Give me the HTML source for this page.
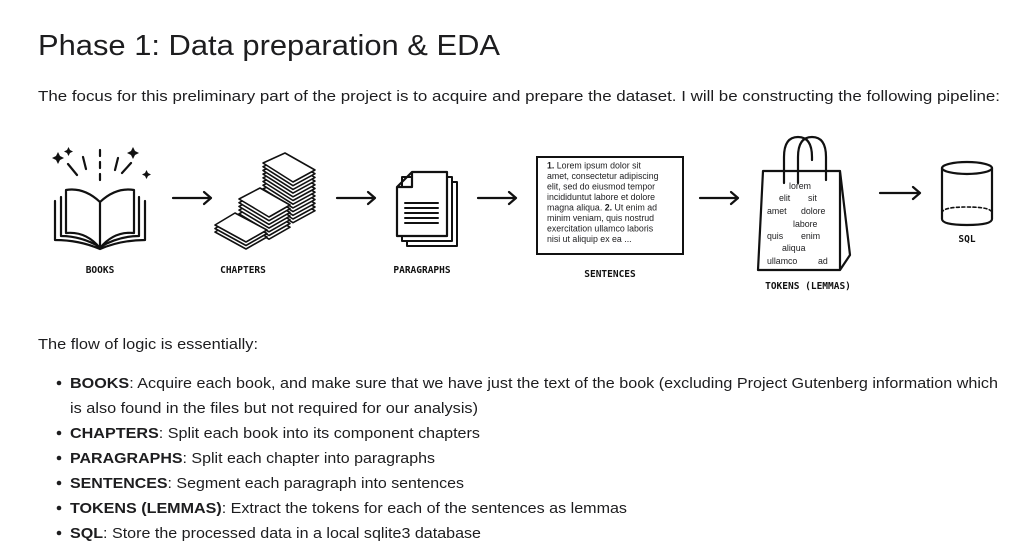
<!DOCTYPE html>
<html><head><meta charset="utf-8"><style>
html,body{margin:0;padding:0;background:#fff;}
svg{display:block}
text{font-family:"Liberation Sans",Arial,sans-serif;fill:#1d1d1f}
.m{font-family:"DejaVu Sans Mono","Liberation Mono",monospace;font-size:9.5px;fill:#111;font-weight:bold}
.s{fill:none;stroke:#111;stroke-width:2.2;stroke-linejoin:round;stroke-linecap:round}
.w{fill:#fff;stroke:#111;stroke-width:1.6;stroke-linejoin:round}
.b{font-weight:bold}
</style></head><body>
<svg width="1024" height="557" viewBox="0 0 1024 557" xmlns="http://www.w3.org/2000/svg" xmlns:xlink="http://www.w3.org/1999/xlink">
<defs>
<polygon id="dA" class="w" points="285,0 315,17 293,29 263,10"/>
<polygon id="dB" class="w" points="260,0 290,17 269,29 239,11"/>
<polygon id="dC" class="w" points="235,0 267,17 246,29 215,12"/>
</defs>
<text x="38" y="55" font-size="29" textLength="462" lengthAdjust="spacingAndGlyphs">Phase 1: Data preparation &amp; EDA</text>
<text x="38" y="101" font-size="15" textLength="962" lengthAdjust="spacingAndGlyphs">The focus for this preliminary part of the project is to acquire and prepare the dataset. I will be constructing the following pipeline:</text>

<!-- BOOK -->
<g>
<path fill="#111" d="M56 156 l2 -4 l2 4 l4 2 l-4 2 l-2 4 l-2 -4 l-4 -2z M67 150 l1.5 -3 l1.5 3 l3 1.5 l-3 1.5 l-1.5 3 l-1.5 -3 l-3 -1.5z M131 151 l2 -4 l2 4 l4 2 l-4 2 l-2 4 l-2 -4 l-4 -2z M145 173 l1.5 -3 l1.5 3 l3 1.5 l-3 1.5 l-1.5 3 l-1.5 -3 l-3 -1.5z"/>
<path class="s" d="M100 150 v6 M100 162 v6 M100 174 v6 M83 157 l3 12 M68 164 l9 11 M118 158 l-3 12 M131 163 l-9 10"/>
<path class="s" d="M55 201 v39 q24 0 45 9 q21 -9 45 -9 v-39 M61 197 v39 q20 0 39 11 q19 -11 39 -11 v-39"/>
<path class="w" style="stroke-width:2.2" d="M66 190 q18 -3 34 12 q16 -15 34 -12 v43 q-20 -2 -34 15 q-14 -17 -34 -15z"/>
<path class="s" d="M100 202 v44"/>
</g>
<path class="s" d="M173 198 h38 M204 192 l7 6 l-7 6"/>

<!-- CHAPTERS -->
<g>
<use xlink:href="#dA" y="193.7"/><use xlink:href="#dA" y="190"/><use xlink:href="#dA" y="186.3"/><use xlink:href="#dA" y="182.6"/><use xlink:href="#dA" y="178.9"/><use xlink:href="#dA" y="175.2"/><use xlink:href="#dA" y="171.5"/><use xlink:href="#dA" y="167.8"/><use xlink:href="#dA" y="164.1"/><use xlink:href="#dA" y="160.4"/><use xlink:href="#dA" y="156.7"/><use xlink:href="#dA" y="153"/>
<use xlink:href="#dB" y="210.2"/><use xlink:href="#dB" y="206.5"/><use xlink:href="#dB" y="202.8"/><use xlink:href="#dB" y="199.1"/><use xlink:href="#dB" y="195.4"/><use xlink:href="#dB" y="191.7"/><use xlink:href="#dB" y="188"/>
<use xlink:href="#dC" y="220"/><use xlink:href="#dC" y="216.5"/><use xlink:href="#dC" y="213"/>
</g>
<path class="s" d="M337 198 h38 M368 192 l7 6 l-7 6"/>

<!-- PARAGRAPHS -->
<g>
<rect class="w" x="407" y="182" width="50" height="64" style="stroke-width:2"/>
<rect class="w" x="402" y="177" width="50" height="64" style="stroke-width:2"/>
<path class="w" style="stroke-width:2.2" d="M412 172 h35 v64 h-50 v-49z M397 187 h15 v-15"/>
<path class="s" style="stroke-width:2" d="M405 203 h33 M405 208 h33 M405 213 h33 M405 218 h33 M405 223 h33"/>
</g>
<path class="s" d="M478 198 h38 M509 192 l7 6 l-7 6"/>

<!-- SENTENCES -->
<rect x="537" y="157" width="146" height="97" fill="#fff" stroke="#111" stroke-width="2"/>
<g font-size="8.8" style="font-family:'Liberation Sans',Arial,sans-serif">
<text x="547" y="168.5"><tspan class="b">1.</tspan> Lorem ipsum dolor sit</text>
<text x="547" y="179">amet, consectetur adipiscing</text>
<text x="547" y="189.5">elit, sed do eiusmod tempor</text>
<text x="547" y="200">incididuntut labore et dolore</text>
<text x="547" y="210.5">magna aliqua. <tspan class="b">2.</tspan> Ut enim ad</text>
<text x="547" y="221">minim veniam, quis nostrud</text>
<text x="547" y="231.5">exercitation ullamco laboris</text>
<text x="547" y="242">nisi ut aliquip ex ea ...</text>
</g>
<path class="s" d="M700 198 h38 M731 192 l7 6 l-7 6"/>

<!-- BAG -->
<g>
<path class="s" d="M784 183 v-26 q0 -20 14 -20 q14 0 14 20 v3 M798 183 v-26 q0 -20 14 -20 q14 0 14 20 v23"/>
<path class="s" d="M763 171 h77 v99 h-82z M840 171 l10 84 l-10 15"/>
</g>
<g font-size="8.8" style="font-family:'Liberation Sans',Arial,sans-serif">
<text x="789" y="189">lorem</text>
<text x="779" y="201">elit</text><text x="808" y="201">sit</text>
<text x="767" y="214">amet</text><text x="801" y="214">dolore</text>
<text x="793" y="227">labore</text>
<text x="767" y="239">quis</text><text x="801" y="239">enim</text>
<text x="782" y="251">aliqua</text>
<text x="767" y="264">ullamco</text><text x="818" y="264">ad</text>
</g>
<path class="s" d="M880 193 h40 M913 187 l7 6 l-7 6"/>

<!-- SQL -->
<g>
<path class="s" d="M942 168 v51 q0 6 25 6 q25 0 25 -6 v-51"/>
<ellipse class="s" cx="967" cy="168" rx="25" ry="6"/>
<path class="s" style="stroke-width:1.6;stroke-dasharray:3 2.5" d="M942 213 q0 -6 25 -6 q25 0 25 6"/>
</g>

<text class="m" x="100" y="273" text-anchor="middle">BOOKS</text>
<text class="m" x="243" y="273" text-anchor="middle">CHAPTERS</text>
<text class="m" x="422" y="273" text-anchor="middle">PARAGRAPHS</text>
<text class="m" x="610" y="277" text-anchor="middle">SENTENCES</text>
<text class="m" x="808" y="289" text-anchor="middle">TOKENS (LEMMAS)</text>
<text class="m" x="967" y="242" text-anchor="middle">SQL</text>

<text x="38" y="349" font-size="15" textLength="220" lengthAdjust="spacingAndGlyphs">The flow of logic is essentially:</text>
<g font-size="15">
<circle cx="59" cy="383" r="2.3" fill="#1d1d1f"/>
<text x="70" y="388" textLength="928" lengthAdjust="spacingAndGlyphs"><tspan class="b">BOOKS</tspan>: Acquire each book, and make sure that we have just the text of the book (excluding Project Gutenberg information which</text>
<text x="70" y="413" textLength="408" lengthAdjust="spacingAndGlyphs">is also found in the files but not required for our analysis)</text>
<circle cx="59" cy="433" r="2.3" fill="#1d1d1f"/>
<text x="70" y="438" textLength="410" lengthAdjust="spacingAndGlyphs"><tspan class="b">CHAPTERS</tspan>: Split each book into its component chapters</text>
<circle cx="59" cy="458" r="2.3" fill="#1d1d1f"/>
<text x="70" y="463" textLength="365" lengthAdjust="spacingAndGlyphs"><tspan class="b">PARAGRAPHS</tspan>: Split each chapter into paragraphs</text>
<circle cx="59" cy="483" r="2.3" fill="#1d1d1f"/>
<text x="70" y="488" textLength="394" lengthAdjust="spacingAndGlyphs"><tspan class="b">SENTENCES</tspan>: Segment each paragraph into sentences</text>
<circle cx="59" cy="508" r="2.3" fill="#1d1d1f"/>
<text x="70" y="513" textLength="557" lengthAdjust="spacingAndGlyphs"><tspan class="b">TOKENS (LEMMAS)</tspan>: Extract the tokens for each of the sentences as lemmas</text>
<circle cx="59" cy="533" r="2.3" fill="#1d1d1f"/>
<text x="70" y="538" textLength="411" lengthAdjust="spacingAndGlyphs"><tspan class="b">SQL</tspan>: Store the processed data in a local sqlite3 database</text>
</g>
</svg>
</body></html>
